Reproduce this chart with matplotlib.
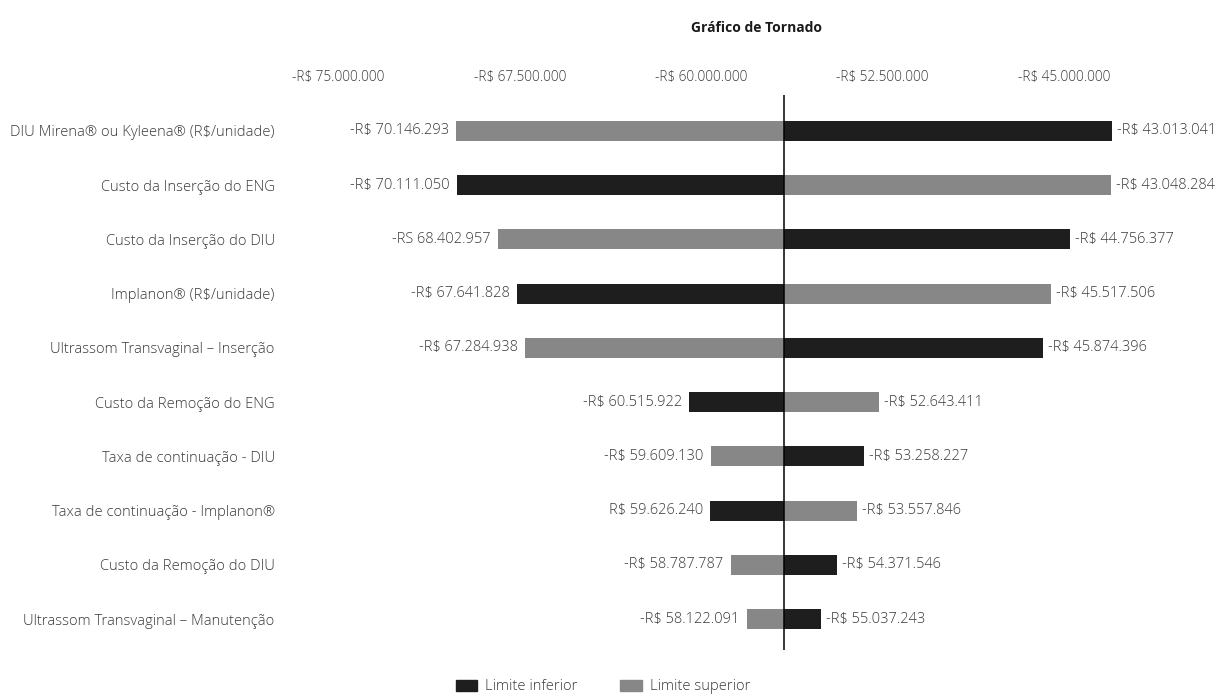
import matplotlib
matplotlib.use("Agg")
import matplotlib.pyplot as plt
from matplotlib.ticker import FuncFormatter
from matplotlib.patches import Patch

### data
parametros = ["DIU Mirena® ou Kyleena® (R$/unidade)",
              "Custo da Inserção do ENG",
              "Custo da Inserção do DIU",
              "Implanon® (R$/unidade)",
              "Ultrassom Transvaginal – Inserção",
              "Custo da Remoção do ENG",
              "Taxa de continuação - DIU",
              "Taxa de continuação - Implanon®",
              "Custo da Remoção do DIU",
              "Ultrassom Transvaginal – Manutenção"]

limite_inferior = [-43013041, -70111050, -44756377, -67641828, -45874396,
                   -60515922, -53258227, -59626240, -54371546, -55037243]
limite_superior = [-70146293, -43048284, -68402957, -45517506, -67284938,
                   -52643411, -59609130, -53557846, -58787787, -58122091]

# value labels as printed in the original (typos kept)
rotulo_inferior = ["-R$ 43.013.041", "-R$ 70.111.050", "-R$ 44.756.377", "-R$ 67.641.828",
                   "-R$ 45.874.396", "-R$ 60.515.922", "-R$ 53.258.227", "R$ 59.626.240",
                   "-R$ 54.371.546", "-R$ 55.037.243"]
rotulo_superior = ["-R$ 70.146.293", "-R$ 43.048.284", "-RS 68.402.957", "-R$ 45.517.506",
                   "-R$ 67.284.938", "-R$ 52.643.411", "-R$ 59.609.130", "-R$ 53.557.846",
                   "-R$ 58.787.787", "-R$ 58.122.091"]

base = -56579667  # caso base (centre line)
ticks = [-75000000, -67500000, -60000000, -52500000, -45000000]

cor_inf = "#1e1e1e"
cor_sup = "#878787"
txt = "#3a3a3a"

plt.rcParams['font.family'] = ['Open Sans', 'DejaVu Sans']
plt.rcParams['font.weight'] = 'light'
plt.rcParams['font.size'] = 10.6

fig = plt.figure(figsize=(12.28, 6.96), dpi=100)
ax = fig.add_axes([290/1228, 1 - 650/696, 890/1228, 555/696])

y = list(range(len(parametros)))
h = 0.37
ax.barh(y, [v - base for v in limite_inferior], left=base, height=h, color=cor_inf)
ax.barh(y, [v - base for v in limite_superior], left=base, height=h, color=cor_sup)

### value labels at the bar ends
for i in y:
    for v, s in ((limite_inferior[i], rotulo_inferior[i]), (limite_superior[i], rotulo_superior[i])):
        if v < base:
            ax.annotate(s, (v, i), xytext=(-7, 0), textcoords="offset pixels",
                        ha="right", va="center", color=txt, fontsize=10.5)
        else:
            ax.annotate(s, (v, i), xytext=(5, 0), textcoords="offset pixels",
                        ha="left", va="center", color=txt, fontsize=10.5)

ax.axvline(base, color="black", lw=1.1)

ax.set_xlim(-77010000, -40200000)
ax.set_ylim(9.57, -0.66)
ax.set_xticks(ticks)
ax.xaxis.set_major_formatter(FuncFormatter(lambda v, p: "-R$ " + f"{abs(v):,.0f}".replace(",", ".")))
ax.xaxis.tick_top()
ax.tick_params(axis="x", length=0, pad=7, colors=txt, labelsize=9.8)
ax.set_yticks(y)
ax.set_yticklabels(parametros)
ax.tick_params(axis="y", length=0, pad=11, colors=txt, labelsize=10.6)
for s in ax.spines.values():
    s.set_visible(False)

fig.text(756/1228, 1 - 28/696, "Gráfico de Tornado", ha="center", va="center",
         fontsize=10, fontweight="bold", color="#1a1a1a")

handles = [Patch(color=cor_inf), Patch(color=cor_sup)]
fig.legend(handles, ["Limite inferior", "Limite superior"], loc="center",
           bbox_to_anchor=(603/1228, 1 - 687/696), ncol=2, frameon=False,
           handlelength=1.45, handleheight=0.7, handletextpad=0.55,
           columnspacing=2.9, labelcolor=txt, fontsize=10.6)

fig.savefig("out.png", dpi=100)
